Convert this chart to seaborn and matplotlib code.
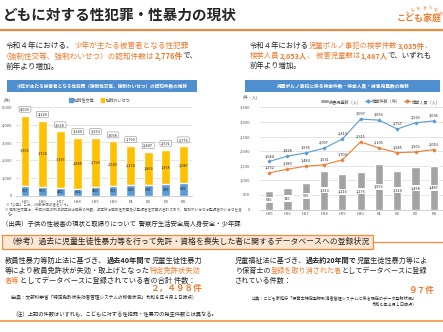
import numpy as np
import pandas as pd
import matplotlib
matplotlib.use("Agg")
import matplotlib.pyplot as plt
from matplotlib.patches import Rectangle, Patch
from matplotlib.lines import Line2D
import seaborn as sns

# ---- data -------------------------------------------------------------
years = ["H25", "H26", "H27", "H28", "H29", "H30", "R1", "R2", "R3", "R4"]
rape = [559, 506, 432, 352, 460, 509, 616, 578, 633, 689]              # 強制性交等
indecent = [3950, 3720, 3196, 2888, 2793, 2549, 2174, 1869, 1958, 2087]  # 強制わいせつ
porn_cases = [1644, 1828, 1938, 2097, 2413, 3097, 3059, 2757, 2969, 3035]   # 検挙件数
porn_persons = [1252, 1380, 1483, 1531, 1703, 2315, 2105, 1945, 1969, 2053]  # 検挙人員
porn_victims = [646, 746, 905, 1313, 1216, 1276, 1559, 1320, 1458, 1487]     # 被害児童数
left_yticks = [0, 1000, 2000, 3000, 4000, 5000]
right_yticks = [0, 500, 1000, 1500, 2000, 2500, 3000, 3500]

# ---- style ------------------------------------------------------------
sns.set_style("white")
plt.rcParams["font.family"] = ["Noto Sans CJK JP", "DejaVu Sans"]

ORANGE = "#ee7b30"
LINE_OR = "#f08a3c"
BLACK = "#262626"
BLUE = "#5b9bd5"
YELLOW = "#ffc000"
GRAY_BAR = "#a3a3a3"
HEAD = "#4f8fcf"
TICK = "#595959"
GRID = "#d9d9d9"

W, H = 443, 332
fig = plt.figure(figsize=(W / 100, H / 100), dpi=100)
fig.patch.set_facecolor("white")
renderer = fig.canvas.get_renderer()


def fx(x):
    return x / W


def fy(y):
    return 1 - y / H


def rich(x, yc, parts, size):
    """Draw a line of mixed-style text starting at pixel x, centred on pixel row yc."""
    base = yc + 0.38 * size * 100 / 72
    cx = x
    for txt, color, weight in parts:
        t = fig.text(fx(cx), fy(base), txt, fontsize=size, color=color,
                     fontweight=weight, ha="left", va="baseline")
        cx += t.get_window_extent(renderer).width
    return cx


def hline(x0, x1, y, color, lw):
    fig.add_artist(Line2D([fx(x0), fx(x1)], [fy(y), fy(y)], color=color,
                          lw=lw, transform=fig.transFigure))


def rect(x0, y0, x1, y1, fc, ec="none", lw=0):
    fig.add_artist(Rectangle((fx(x0), fy(y1)), fx(x1) - fx(x0), fy(y0) - fy(y1),
                             facecolor=fc, edgecolor=ec, lw=lw,
                             transform=fig.transFigure))


# ---- page header ------------------------------------------------------
fig.text(fx(3), fy(15), "どもに対する性犯罪・性暴力の現状", fontsize=10.5,
         fontweight="bold", color=BLACK, ha="left", va="center")
hline(0, W, 29.5, LINE_OR, 1.6)

fig.text(fx(442), fy(18.5), "こども家庭", fontsize=6.5, color=ORANGE,
         fontweight="bold", ha="right", va="center")
arc = "こどもまんなか"
for i, ch in enumerate(arc):
    th = np.deg2rad(132 - i * 14)
    fig.text(fx(424 + 24 * np.cos(th)), fy(31 - 24 * np.sin(th)), ch,
             fontsize=2.8, color=ORANGE, ha="center", va="center",
             rotation=np.rad2deg(th) - 90)

# ---- lead paragraphs --------------------------------------------------
N, B = "normal", "bold"
rich(6, 45.5, [("令和４年における、", BLACK, N), ("少年が主たる被害者となる性犯罪", ORANGE, N)], 5.5)
rich(2, 55.5, [("（強制性交等、強制わいせつ）の認知件数は", ORANGE, N),
               ("2,776件", ORANGE, B), ("で、", BLACK, N)], 5.5)
rich(6, 65.5, [("前年より増加。", BLACK, N)], 5.5)

rich(250, 45.5, [("令和４年における", BLACK, N), ("児童ポルノ事犯の検挙件数", ORANGE, N),
                 ("3,035件", ORANGE, B), ("、", ORANGE, N)], 5.3)
rich(250, 55.5, [("検挙人員", ORANGE, N), ("2,053人", ORANGE, B), ("、 被害児童数は", ORANGE, N),
                 ("1,487人", ORANGE, B), ("で、いずれも", BLACK, N)], 5.3)
rich(250, 65.5, [("前年より増加。", BLACK, N)], 5.3)

# ---- chart headers ----------------------------------------------------
rect(7, 80, 197, 92, HEAD)
fig.text(fx(102), fy(86), "少年が主たる被害者となる性犯罪（強制性交等、強制わいせつ）の認知件数の推移",
         fontsize=3.3, color="white", ha="center", va="center", fontweight="bold")
rect(245, 80, 440, 92, HEAD)
fig.text(fx(343), fy(86), "児童ポルノ事犯に係る検挙件数・検挙人員・被害児童数の推移",
         fontsize=3.4, color="white", ha="center", va="center", fontweight="bold")

# ---- left chart: stacked bars -----------------------------------------
totals = [a + b for a, b in zip(rape, indecent)]
ax1 = fig.add_axes([fx(16.2), fy(195.5), 176 / W, 88.5 / H])
sns.barplot(x=years, y=totals, color=YELLOW, saturation=1, width=0.5,
            errorbar=None, ax=ax1, zorder=3)
sns.barplot(x=years, y=rape, color=BLUE, saturation=1, width=0.5,
            errorbar=None, ax=ax1, zorder=3)
ax1.set_xlim(-0.5, len(years) - 0.5)
ax1.set_ylim(0, 5000)
ax1.set_yticks(left_yticks)
ax1.set_yticklabels([f"{v:,}" for v in left_yticks])
ax1.grid(axis="y", color=GRID, lw=0.5, zorder=0)
ax1.set_axisbelow(True)
for s in ["top", "right", "left"]:
    ax1.spines[s].set_visible(False)
ax1.spines["bottom"].set_color("#bfbfbf")
ax1.spines["bottom"].set_linewidth(0.5)
ax1.tick_params(axis="both", length=0, labelsize=3, colors=TICK)
ax1.tick_params(axis="y", pad=3)
ax1.tick_params(axis="x", pad=3)
ax1.set_xlabel("")
ax1.set_ylabel("")
for i, (a, b, t) in enumerate(zip(rape, indecent, totals)):
    ax1.text(i, a / 2, f"{a:,}", fontsize=2.8, color=BLACK, ha="center", va="center", zorder=5)
    ax1.text(i, a + b / 2, f"{b:,}", fontsize=2.8, color=BLACK, ha="center", va="center", zorder=5)
    ax1.annotate(f"{t:,}", (i, t), xytext=(0, 3.2), textcoords="offset points",
                 fontsize=2.8, color=BLACK, ha="center", va="bottom", zorder=6,
                 bbox=dict(boxstyle="round,pad=0.25", fc="white", ec="#8c8c8c", lw=0.4))

fig.text(fx(4), fy(100), "(件)", fontsize=3, color=TICK, ha="left", va="center")
fig.legend(handles=[Patch(color=BLUE, label="強制性交等"), Patch(color=YELLOW, label="強制わいせつ")],
           loc="center", bbox_to_anchor=(fx(100), fy(100)), ncol=2, frameon=False,
           fontsize=3, handlelength=0.8, handleheight=0.8, handletextpad=0.4,
           columnspacing=1.5, labelcolor=TICK)

fig.text(fx(5), fy(205), "※「少年」とは、20歳未満の者をいう。", fontsize=2.6, color=TICK, ha="left", va="center")
fig.text(fx(5), fy(209.5),
         "※ 強制性交等は、平成29年の刑法改正前は強姦の件数、改正後は強制性交等及び監護者性交等の合計であり、強制わいせつは監護者わいせつを含",
         fontsize=2.6, color=TICK, ha="left", va="center")
fig.text(fx(8), fy(213.5), "む。", fontsize=2.6, color=TICK, ha="left", va="center")
fig.text(fx(2), fy(224), "（出典）子供の性被害の現状と取締りについて  警察庁生活安全局人身安全・少年課",
         fontsize=4.6, color=BLACK, ha="left", va="center")

# ---- right chart: bars + lines ----------------------------------------
ax2 = fig.add_axes([fx(260), fy(209.5), 183 / W, 102.2 / H])
sns.barplot(x=years, y=porn_victims, color=GRAY_BAR, saturation=1, width=0.45,
            errorbar=None, ax=ax2, zorder=2)
sns.pointplot(x=years, y=porn_cases, color=BLUE, markers="D", markersize=1.6,
              linewidth=0.8, errorbar=None, ax=ax2)
sns.pointplot(x=years, y=porn_persons, color="#ed7d31", markers="D", markersize=1.6,
              linewidth=0.8, errorbar=None, ax=ax2)
ax2.set_xlim(-0.5, len(years) - 0.5)
ax2.set_ylim(0, 3500)
ax2.set_yticks(right_yticks)
ax2.set_yticklabels([f"{v:,}" for v in right_yticks])
ax2.grid(axis="y", color=GRID, lw=0.5, zorder=0)
ax2.grid(axis="x", visible=False)
ax2.set_axisbelow(True)
for s in ["top", "right", "left"]:
    ax2.spines[s].set_visible(False)
ax2.spines["bottom"].set_color("#bfbfbf")
ax2.spines["bottom"].set_linewidth(0.5)
ax2.tick_params(axis="both", length=0, labelsize=3, colors=TICK)
ax2.tick_params(axis="y", pad=7)
ax2.tick_params(axis="x", pad=1.5)
ax2.set_xlabel("")
ax2.set_ylabel("")
for i, (v, c, p) in enumerate(zip(porn_victims, porn_cases, porn_persons)):
    ax2.text(i, v / 2, f"{v:,}", fontsize=2.8, color=BLACK, ha="center", va="center", zorder=5,
             bbox=dict(boxstyle="square,pad=0.3", fc="white", ec="none"))
    ax2.annotate(f"{c:,}", (i, c), xytext=(0, 2.5), textcoords="offset points",
                 fontsize=2.8, color=BLACK, ha="center", va="bottom", zorder=6)
    ax2.annotate(f"{p:,}", (i, p), xytext=(0, 2.5), textcoords="offset points",
                 fontsize=2.8, color=BLACK, ha="center", va="bottom", zorder=6)

fig.text(fx(243), fy(97), "(件・人)", fontsize=3, color=TICK, ha="left", va="center")
fig.legend(handles=[Line2D([], [], color=GRAY_BAR, lw=2.2, label="被害児童数（人）"),
                    Line2D([], [], color=BLUE, lw=0.8, marker="D", ms=1.6, label="検挙件数（件）"),
                    Line2D([], [], color="#ed7d31", lw=0.8, marker="D", ms=1.6, label="検挙人員（人）")],
           loc="center right", bbox_to_anchor=(fx(444), fy(101.5)), ncol=3, frameon=False,
           fontsize=3, handlelength=1.4, handletextpad=0.3, columnspacing=0.8, labelcolor=TICK)

# ---- reference banner -------------------------------------------------
rect(2, 235, 373, 249, "#fde6d2", ec=LINE_OR, lw=0.9)
hline(373, W, 242, LINE_OR, 0.9)
fig.text(fx(8), fy(242.3),
         "（参考）過去に児童生徒性暴力等を行って免許・資格を喪失した者に関するデータベースへの登録状況",
         fontsize=5.65, color=BLACK, ha="left", va="center")

# ---- bottom left block ------------------------------------------------
rich(5, 260, [("教員性暴力等防止法に基づき、", BLACK, N), ("過去40年間で", BLACK, B),
              ("児童生徒性暴力", BLACK, N)], 5.2)
rich(5, 270, [("等により教員免許状が失効・取上げとなった", BLACK, N), ("特定免許状失効", ORANGE, N)], 5.2)
rich(5, 280, [("者等", ORANGE, N), ("としてデータベースに登録されている者の合計 件数：", BLACK, N)], 5.2)
fig.text(fx(202), fy(288.5), "２，４９８件", fontsize=6.2, color=ORANGE, fontweight="bold",
         ha="right", va="center")
fig.text(fx(8), fy(298), "（出典：文部科学省「特定免許状失効者管理システムの稼働状況」令和６年４月１日時点）",
         fontsize=3.3, color=BLACK, ha="left", va="center")
fig.text(fx(12), fy(314), "（注）上記の件数はいずれも、こどもに対する性犯罪・性暴力の発生件数とは異なる。",
         fontsize=3.8, color=BLACK, ha="left", va="center")

# ---- bottom right block -----------------------------------------------
rich(235, 260, [("児童福祉法に基づき、", BLACK, N), ("過去約20年間で", BLACK, B),
                ("児童生徒性暴力等によ", BLACK, N)], 5.1)
rich(235, 270, [("り保育士の", BLACK, N), ("登録を取り消された者", ORANGE, N),
                ("としてデータベースに登録", BLACK, N)], 5.1)
rich(235, 280, [("されている件数：", BLACK, N)], 5.1)
fig.text(fx(434), fy(290), "９７件", fontsize=6.2, color=ORANGE, fontweight="bold",
         ha="right", va="center")
fig.text(fx(417), fy(298), "出典：こども家庭庁「保育士特定登録取消者管理システムに係る現在のデータ登録状況」",
         fontsize=3.0, color=BLACK, ha="right", va="center")
fig.text(fx(417), fy(304), "令和６年４月１日時点）", fontsize=3.0, color=BLACK, ha="right", va="center")

hline(0, W, 321, LINE_OR, 1.1)

fig.savefig("out.png", dpi=100, facecolor="white")
